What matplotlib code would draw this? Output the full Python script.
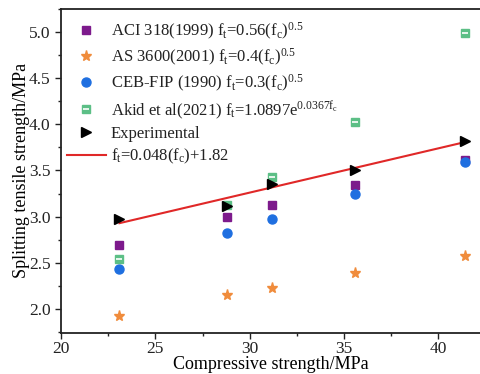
import matplotlib
matplotlib.use("Agg")
import matplotlib.pyplot as plt
from matplotlib.legend_handler import HandlerTuple
from matplotlib.ticker import MultipleLocator

# Compressive strength of each mix (MPa)
fc = [23.1, 28.8, 31.2, 35.6, 41.4]

# Splitting tensile strength (MPa) from code models and tests
aci_318 = [2.69, 3.00, 3.13, 3.34, 3.61]
as_3600 = [1.92, 2.15, 2.23, 2.39, 2.57]
ceb_fip = [2.43, 2.82, 2.97, 3.25, 3.59]
akid = [2.54, 3.13, 3.43, 4.03, 4.99]
experimental = [2.97, 3.12, 3.35, 3.50, 3.82]

# Linear fit of the experimental results
fit_slope = 0.048
fit_intercept = 1.82

plt.rcParams["font.family"] = ["Liberation Serif", "DejaVu Serif"]
plt.rcParams["mathtext.fontset"] = "custom"
plt.rcParams["mathtext.rm"] = "Liberation Serif"
plt.rcParams["mathtext.it"] = "Liberation Serif"
plt.rcParams["text.color"] = "#222222"

fig = plt.figure(figsize=(4.8, 3.74), dpi=100)
ax = fig.add_axes([0.127, 0.11, 0.873, 0.866])

ms = 6
h_aci, = ax.plot(fc, aci_318, "s", color="#7d1a8c", ms=ms, ls="none")
h_as, = ax.plot(fc, as_3600, "*", color="#f08c3c", ms=ms + 2, ls="none")
h_ceb, = ax.plot(fc, ceb_fip, "o", color="#1f6fe0", ms=ms + 0.5, ls="none")
h_akid, = ax.plot(fc, akid, "s", color="#5cbf86", ms=ms, ls="none")
h_akid_bar, = ax.plot(fc, akid, "_", color="white", ms=ms - 1.5, mew=1.2, ls="none")
h_exp, = ax.plot(fc, experimental, ">", color="black", ms=ms + 1, ls="none", zorder=4)

fit_x = [fc[0], fc[-1]]
fit_y = [fit_slope * x + fit_intercept for x in fit_x]
h_fit, = ax.plot(fit_x, fit_y, "-", color="#e02828", lw=1.5, zorder=3)

handles = [h_aci, h_as, h_ceb, (h_akid, h_akid_bar), h_exp, h_fit]
labels = [
    r"ACI 318(1999) f$_\mathrm{t}$=0.56(f$_\mathrm{c}$)$^{0.5}$",
    r"AS 3600(2001) f$_\mathrm{t}$=0.4(f$_\mathrm{c}$)$^{0.5}$",
    r"CEB-FIP (1990) f$_\mathrm{t}$=0.3(f$_\mathrm{c}$)$^{0.5}$",
    r"Akid et al(2021) f$_\mathrm{t}$=1.0897e$^{0.0367f_\mathrm{c}}$",
    "Experimental",
    r"f$_\mathrm{t}$=0.048(f$_\mathrm{c}$)+1.82",
]
ax.legend(
    handles, labels,
    handler_map={tuple: HandlerTuple(ndivide=1, pad=0)},
    loc="upper left", bbox_to_anchor=(-0.005, 0.99),
    frameon=False, fontsize=12, handlelength=2.3, handletextpad=0.3,
    labelspacing=0.3, borderaxespad=0.2, borderpad=0.3,
)

ax.set_xlim(20, 42.2)
ax.set_ylim(1.74, 5.25)
ax.xaxis.set_major_locator(MultipleLocator(5))
ax.xaxis.set_minor_locator(MultipleLocator(2.5))
ax.yaxis.set_major_locator(MultipleLocator(0.5))
ax.yaxis.set_minor_locator(MultipleLocator(0.25))
ax.tick_params(which="both", direction="out", labelsize=12.5, colors="#222222")
ax.tick_params(which="major", length=4, width=1)
ax.tick_params(which="minor", length=2.5, width=1)
ax.tick_params(axis="x", pad=2)

ax.spines["right"].set_visible(False)
for side in ("left", "bottom", "top"):
    ax.spines[side].set_linewidth(1.3)
    ax.spines[side].set_color("#222222")

ax.set_xlabel("Compressive strength/MPa", fontsize=13, labelpad=-1)
ax.set_ylabel("Splitting tensile strength/MPa", fontsize=13, labelpad=-1)

fig.savefig("out.png", dpi=100)
